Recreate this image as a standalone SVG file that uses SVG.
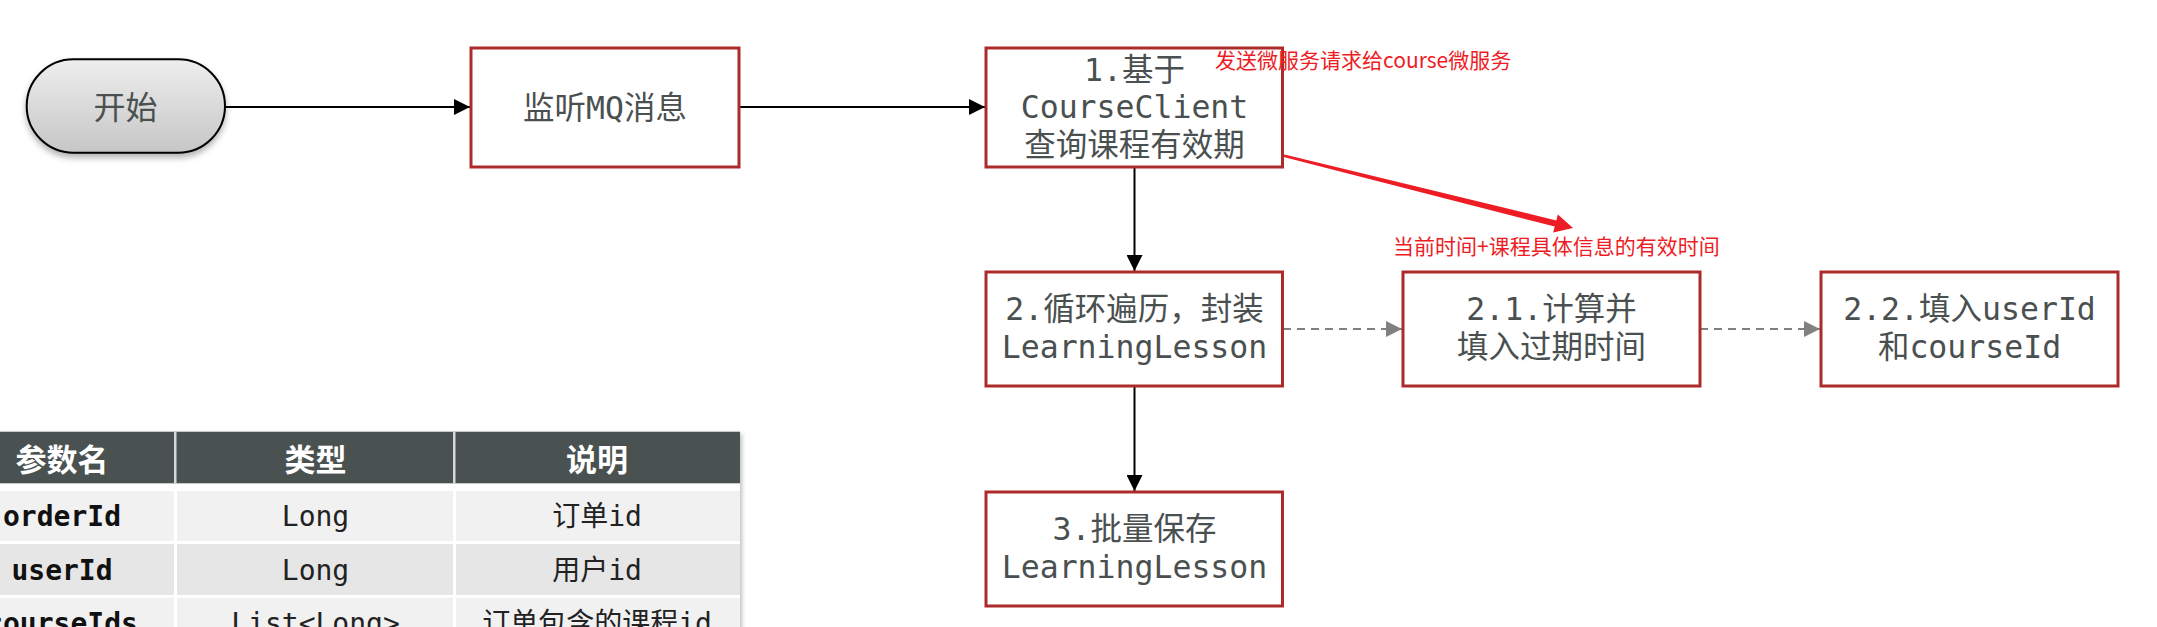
<svg xmlns="http://www.w3.org/2000/svg" width="2157" height="627" viewBox="0 0 2157 627">
<defs>
<style>
.box{fill:#ffffff;stroke:#ad2a2a;stroke-width:3}
.t{font-family:"DejaVu Sans Mono","Noto Sans CJK SC",monospace;font-size:31.5px;fill:#4a5050;text-anchor:middle}
.red{font-family:"Noto Sans CJK SC",sans-serif;font-size:21px;fill:#ee1c25}
.solid{stroke:#000;stroke-width:2;fill:none}
.dash{stroke:#808080;stroke-width:2;fill:none;stroke-dasharray:8 6}
.th{font-family:"Noto Sans CJK SC",sans-serif;font-size:31px;font-weight:bold;fill:#ffffff;text-anchor:middle}
.td{font-family:"DejaVu Sans Mono","Noto Sans CJK SC",monospace;font-size:28px;fill:#222;text-anchor:middle}
.tdb{font-weight:bold;fill:#111}
</style>
<linearGradient id="pillGrad" x1="0" y1="0" x2="0" y2="1">
<stop offset="0" stop-color="#eeeeee"/>
<stop offset="1" stop-color="#c6c6c6"/>
</linearGradient>
<filter id="shadow" x="-20%" y="-20%" width="140%" height="160%">
<feDropShadow dx="0" dy="4" stdDeviation="3" flood-color="#000" flood-opacity="0.3"/>
</filter>
<filter id="tshadow" x="-5%" y="-5%" width="110%" height="110%">
<feDropShadow dx="2" dy="2" stdDeviation="2" flood-color="#000" flood-opacity="0.25"/>
</filter>
<marker id="ab" viewBox="0 0 10 10" refX="10" refY="5" markerWidth="8" markerHeight="8" markerUnits="strokeWidth" orient="auto">
<path d="M0,0 L10,5 L0,10 Z" fill="#000"/>
</marker>
<marker id="ag" viewBox="0 0 10 10" refX="10" refY="5" markerWidth="9" markerHeight="8" markerUnits="strokeWidth" orient="auto">
<path d="M0,0 L10,5 L0,10 Z" fill="#808080"/>
</marker>
</defs>
<rect x="0" y="0" width="2157" height="627" fill="#ffffff"/>

<g id="connectors">
<line class="solid" x1="225" y1="107" x2="470" y2="107" marker-end="url(#ab)"/>
<line class="solid" x1="739" y1="107" x2="985" y2="107" marker-end="url(#ab)"/>
<line class="solid" x1="1134.5" y1="167" x2="1134.5" y2="271" marker-end="url(#ab)"/>
<line class="solid" x1="1134.5" y1="386" x2="1134.5" y2="491" marker-end="url(#ab)"/>
<line class="dash" x1="1283" y1="329" x2="1402" y2="329" marker-end="url(#ag)"/>
<line class="dash" x1="1700" y1="329" x2="1820" y2="329" marker-end="url(#ag)"/>
<polygon id="red-arrow" points="1258,148.2 1556.3,220.4 1557.9,214.6 1573,228 1553.2,232.4 1554.7,226.6 1258,150.3" fill="#ee1c25"/>
</g>

<g id="start">
<rect x="26.7" y="59.3" width="198.3" height="93.4" rx="46.7" ry="46.7" fill="url(#pillGrad)" stroke="#000" stroke-width="2" filter="url(#shadow)"/>
<text x="125.5" y="119" style="font-family:'Noto Sans CJK SC',sans-serif;font-size:32px;fill:#4a5050;text-anchor:middle">开始</text>
</g>

<g id="listen">
<rect class="box" x="471" y="48" width="268" height="119"/>
<text class="t" x="605" y="119">监听MQ消息</text>
</g>

<g id="step1">
<rect class="box" x="986" y="48" width="296.5" height="119"/>
<text class="t" x="1134.5" y="81">1.基于</text>
<text class="t" x="1134.5" y="118">CourseClient</text>
<text class="t" x="1134.5" y="156">查询课程有效期</text>
</g>

<g id="note1">
<text class="red" x="1215" y="68">发送微服务请求给course微服务</text>
</g>

<g id="note2">
<text class="red" x="1393" y="254">当前时间+课程具体信息的有效时间</text>
</g>

<g id="step2">
<rect class="box" x="986" y="272" width="296.5" height="114"/>
<text class="t" x="1134.5" y="320">2.循环遍历，封装</text>
<text class="t" x="1134.5" y="358">LearningLesson</text>
</g>

<g id="step2-1">
<rect class="box" x="1403" y="272" width="297" height="114"/>
<text class="t" x="1551.5" y="320">2.1.计算并</text>
<text class="t" x="1551.5" y="358">填入过期时间</text>
</g>

<g id="step2-2">
<rect class="box" x="1821" y="272" width="297" height="114"/>
<text class="t" x="1969.5" y="320">2.2.填入userId</text>
<text class="t" x="1969.5" y="358">和courseId</text>
</g>

<g id="step3">
<rect class="box" x="986" y="492" width="296.5" height="114"/>
<text class="t" x="1134.5" y="540">3.批量保存</text>
<text class="t" x="1134.5" y="578">LearningLesson</text>
</g>

<g id="table">
<g filter="url(#tshadow)">
<rect x="-60" y="431.7" width="800" height="220" fill="#ffffff"/>
</g>
<rect x="-60" y="431.7" width="800" height="51.6" fill="#4a5151"/>
<rect x="174" y="431.7" width="2.5" height="51.6" fill="#d8d8d8"/>
<rect x="453" y="431.7" width="2.5" height="51.6" fill="#d8d8d8"/>
<rect x="-60" y="491" width="234" height="50" fill="#f1f1f1"/>
<rect x="177" y="491" width="276" height="50" fill="#f1f1f1"/>
<rect x="456" y="491" width="284" height="50" fill="#f1f1f1"/>
<rect x="-60" y="544" width="234" height="51" fill="#e6e6e6"/>
<rect x="177" y="544" width="276" height="51" fill="#e6e6e6"/>
<rect x="456" y="544" width="284" height="51" fill="#e6e6e6"/>
<rect x="-60" y="597.7" width="234" height="50" fill="#f1f1f1"/>
<rect x="177" y="597.7" width="276" height="50" fill="#f1f1f1"/>
<rect x="456" y="597.7" width="284" height="50" fill="#f1f1f1"/>
<text class="th" x="62" y="471">参数名</text>
<text class="th" x="315.5" y="471">类型</text>
<text class="th" x="597" y="471">说明</text>
<text class="td tdb" x="62" y="526">orderId</text>
<text class="td" x="315.5" y="526">Long</text>
<text class="td" x="597" y="526">订单id</text>
<text class="td tdb" x="62" y="580">userId</text>
<text class="td" x="315.5" y="580">Long</text>
<text class="td" x="597" y="580">用户id</text>
<text class="td tdb" x="62" y="633">courseIds</text>
<text class="td" x="315.5" y="633">List&lt;Long&gt;</text>
<text class="td" x="597" y="633">订单包含的课程id</text>
</g>
</svg>
